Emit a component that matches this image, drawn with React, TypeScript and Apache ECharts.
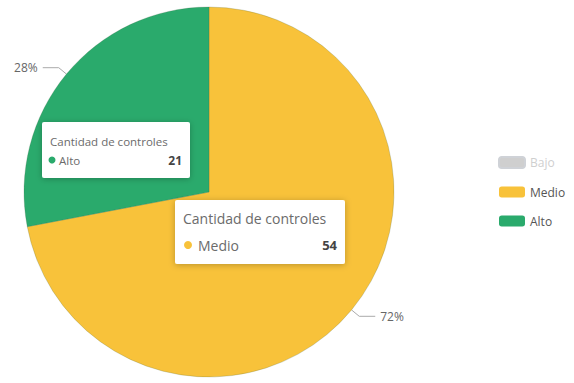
import React, { useEffect, useRef } from "react";
import * as echarts from "echarts";

const categories = ["Bajo", "Medio", "Alto"];
const values = [0, 54, 21];
const colors = ["#c8c8c8", "#f8c23a", "#2aaa6c"];
const tooltipTitle = "Cantidad de controles";
const FONT = "'Open Sans', 'Noto Sans', sans-serif";

function tooltipBox(x: number, y: number, w: number, h: number, idx: number, big: boolean) {
  const tSize = big ? 14 : 11.5;
  const vSize = big ? 13 : 12;
  const titleY = big ? 18 : 19;
  const rowY = big ? 45 : 38;
  const zz = { z: 100, zlevel: 1 };
  return [
    {
      type: "rect",
      ...zz,
      shape: { x, y, width: w, height: h, r: 2 },
      style: { fill: "#ffffff", shadowBlur: 6, shadowColor: "rgba(0,0,0,0.25)", shadowOffsetY: 1 },
    },
    {
      type: "text",
      ...zz,
      x: x + 8,
      y: y + titleY,
      style: { text: tooltipTitle, fontSize: tSize, fontFamily: FONT, fill: "#6b6b6b", verticalAlign: "middle" },
    },
    {
      type: "circle",
      ...zz,
      shape: { cx: x + (big ? 13 : 10), cy: y + rowY, r: big ? 4 : 3.5 },
      style: { fill: colors[idx] },
    },
    {
      type: "text",
      ...zz,
      x: x + (big ? 23 : 17),
      y: y + rowY,
      style: { text: categories[idx], fontSize: tSize, fontFamily: FONT, fill: "#6b6b6b", verticalAlign: "middle" },
    },
    {
      type: "text",
      ...zz,
      x: x + w - 8,
      y: y + rowY,
      style: {
        text: String(values[idx]),
        fontSize: vSize,
        fontWeight: "bold",
        fontFamily: FONT,
        fill: "#444444",
        align: "right",
        verticalAlign: "middle",
      },
    },
  ];
}

export default function App() {
  const ref = useRef<HTMLDivElement>(null);
  useEffect(() => {
    if (!ref.current) return;
    const chart = echarts.init(ref.current, null, { renderer: "svg" });
    chart.setOption({
      animation: false,
      color: colors,
      textStyle: { fontFamily: FONT },
      legend: {
        orient: "vertical",
        left: 498,
        top: 156,
        padding: 0,
        itemWidth: 26,
        itemHeight: 11,
        itemGap: 17,
        icon: "roundRect",
        data: categories,
        selected: { Bajo: false },
        inactiveColor: "#cfcfcf",
        itemStyle: { borderWidth: 0 },
        textStyle: { fontSize: 12, color: "#555", fontFamily: FONT },
      },
      series: [
        {
          type: "pie",
          center: [209, 192],
          radius: 185,
          startAngle: 90,
          clockwise: true,
          data: categories.map((c, i) => ({ name: c, value: values[i], itemStyle: { color: colors[i] } })),
          itemStyle: { borderColor: "rgba(60,90,60,0.35)", borderWidth: 0.6 },
          label: {
            show: true,
            formatter: "{d}%",
            fontSize: 12,
            color: "#666",
            fontFamily: FONT,
          },
          labelLine: { show: true, length: 10, length2: 16, lineStyle: { color: "#aaa", width: 1 } },
          emphasis: { disabled: true },
        },
      ],
      graphic: { elements: [...tooltipBox(42, 122, 148, 56, 2, false), ...tooltipBox(175, 200, 170, 64, 1, true)] },
    });
    return () => chart.dispose();
  }, []);
  return <div ref={ref} style={{ position: "fixed", left: 0, top: 0, width: 574, height: 383, background: "#fff" }} />;
}
